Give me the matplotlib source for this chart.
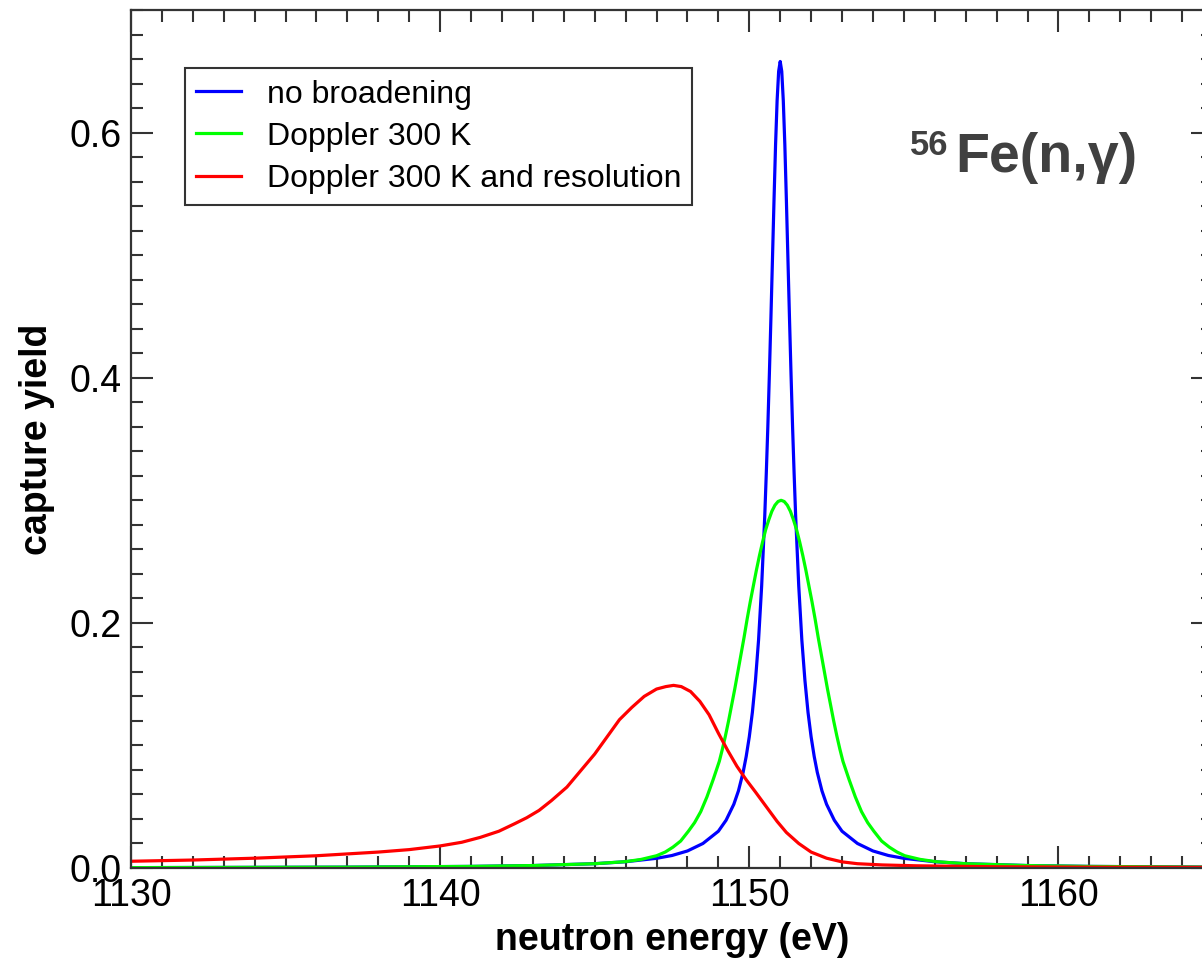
import numpy as np
import matplotlib
matplotlib.use('Agg')
import matplotlib.pyplot as plt
from matplotlib.ticker import MultipleLocator

plt.rcParams['font.family'] = ['Liberation Sans', 'DejaVu Sans']

# no broadening (blue)
e_blue = [1130, 1137, 1141, 1143, 1145, 1146, 1147, 1147.5, 1148, 1148.5, 1149, 1149.25,
          1149.5, 1149.65, 1149.8, 1149.9, 1150.0, 1150.1, 1150.2, 1150.3, 1150.4, 1150.5,
          1150.55, 1150.6, 1150.65, 1150.7, 1150.75, 1150.8, 1150.85, 1150.9, 1150.95, 1151.0,
          1151.05, 1151.1, 1151.15, 1151.2, 1151.25, 1151.3, 1151.35, 1151.4, 1151.45, 1151.5,
          1151.6, 1151.7, 1151.8, 1151.9, 1152.0, 1152.1, 1152.2, 1152.35, 1152.5, 1152.75,
          1153.0, 1153.5, 1154.0, 1154.5, 1155.0, 1156.0, 1157.0, 1159.0, 1161.0, 1165.0]
y_blue = [0.0003, 0.0007, 0.0013, 0.002, 0.0035, 0.0051, 0.0079, 0.0102, 0.0139, 0.020, 0.030, 0.039,
          0.052, 0.063, 0.078, 0.091, 0.107, 0.127, 0.153, 0.186, 0.230, 0.287,
          0.322, 0.360, 0.403, 0.449, 0.497, 0.545, 0.590, 0.626, 0.650, 0.658,
          0.650, 0.626, 0.590, 0.545, 0.497, 0.449, 0.403, 0.360, 0.322, 0.287,
          0.230, 0.186, 0.153, 0.127, 0.107, 0.091, 0.078, 0.063, 0.052, 0.039,
          0.030, 0.020, 0.0139, 0.0102, 0.0079, 0.0051, 0.0035, 0.002, 0.0013, 0.0007]

# Doppler 300 K (green)
e_green = [1130, 1137, 1141, 1143, 1145, 1146, 1146.5, 1147.0, 1147.28, 1147.53, 1147.78, 1148.03,
           1148.23, 1148.43, 1148.63, 1148.83, 1149.03, 1149.13, 1149.23, 1149.33, 1149.43, 1149.53,
           1149.63, 1149.73, 1149.83, 1149.93, 1150.03, 1150.13, 1150.23, 1150.33, 1150.43, 1150.53,
           1150.63, 1150.73, 1150.83, 1150.93, 1151.03, 1151.13, 1151.23, 1151.33, 1151.43, 1151.53,
           1151.63, 1151.73, 1151.83, 1151.93, 1152.03, 1152.13, 1152.23, 1152.33, 1152.43, 1152.53,
           1152.63, 1152.73, 1152.83, 1152.93, 1153.03, 1153.23, 1153.43, 1153.63, 1153.83, 1154.03,
           1154.28, 1154.53, 1154.78, 1155.03, 1155.53, 1156.03, 1157.0, 1159.0, 1161.0, 1165.0]
y_green = [0.0003, 0.0007, 0.0013, 0.002, 0.0035, 0.0052, 0.007, 0.010, 0.013, 0.017, 0.022, 0.030,
           0.037, 0.046, 0.058, 0.072, 0.087, 0.097, 0.108, 0.120, 0.133, 0.146,
           0.160, 0.174, 0.188, 0.203, 0.217, 0.230, 0.243, 0.255, 0.266, 0.276,
           0.284, 0.291, 0.296, 0.299, 0.300, 0.299, 0.296, 0.291, 0.284, 0.276,
           0.266, 0.255, 0.243, 0.230, 0.217, 0.203, 0.188, 0.174, 0.160, 0.146,
           0.133, 0.120, 0.108, 0.097, 0.087, 0.072, 0.058, 0.046, 0.037, 0.030,
           0.022, 0.017, 0.013, 0.010, 0.007, 0.0052, 0.0035, 0.002, 0.0013, 0.0007]

# Doppler 300 K and resolution (red)
e_red = [1130, 1132, 1134, 1136, 1138, 1139, 1140, 1140.7, 1141.3, 1141.9, 1142.4, 1142.8,
         1143.2, 1143.6, 1144.1, 1144.5, 1145.0, 1145.4, 1145.8, 1146.2, 1146.6, 1147.0,
         1147.3, 1147.55, 1147.8, 1148.1, 1148.4, 1148.7, 1149.0, 1149.3, 1149.6, 1149.9,
         1150.2, 1150.55, 1150.9, 1151.2, 1151.6, 1152.0, 1152.5, 1153.0, 1153.5, 1154.3,
         1155.4, 1158.0, 1161.0, 1165.0]
y_red = [0.0055, 0.0065, 0.008, 0.010, 0.013, 0.015, 0.018, 0.021, 0.025, 0.030, 0.036, 0.041,
         0.047, 0.055, 0.066, 0.078, 0.093, 0.107, 0.121, 0.131, 0.140, 0.146,
         0.148, 0.149, 0.148, 0.144, 0.136, 0.125, 0.110, 0.096, 0.083, 0.072,
         0.062, 0.050, 0.038, 0.029, 0.020, 0.013, 0.008, 0.005, 0.0035, 0.0025,
         0.0018, 0.001, 0.0007, 0.0005]

labels = ['no broadening', 'Doppler 300 K', 'Doppler 300 K and resolution']
colors = ['#0000ff', '#00ff00', '#ff0000']

fig = plt.figure(figsize=(12.02, 9.6), dpi=100)
ax = fig.add_axes([131 / 1202, 92 / 960, 1082 / 1202, 858 / 960])

for e, y, lab, c in zip([e_blue, e_green, e_red], [y_blue, y_green, y_red], labels, colors):
    ax.plot(e, y, color=c, lw=2.3, label=lab)

ax.set_xlim(1130, 1165)
ax.set_ylim(0, 0.7)
ax.xaxis.set_major_locator(MultipleLocator(10))
ax.xaxis.set_minor_locator(MultipleLocator(1))
ax.yaxis.set_major_locator(MultipleLocator(0.2))
ax.yaxis.set_minor_locator(MultipleLocator(0.02))
ax.yaxis.set_major_formatter(plt.FormatStrFormatter('%.1f'))

ax.tick_params(which='both', direction='in', top=True, right=True, colors='#333333',
               labelcolor='black', labelsize=27, width=1.5)
ax.tick_params(which='major', length=16, pad=7)
ax.tick_params(which='minor', length=8.5)
for s in ax.spines.values():
    s.set_linewidth(1.6)
    s.set_color('#333333')

ax.set_xlabel('neutron energy (eV)', fontsize=27, fontweight='bold', labelpad=6)
ax.set_ylabel('capture yield', fontsize=27, fontweight='bold', labelpad=10)

leg = ax.legend(loc='upper left', bbox_to_anchor=(0.05, 0.932), borderaxespad=0,
                fontsize=23, handlelength=1.4, handletextpad=0.8, labelspacing=0.38,
                borderpad=0.35, fancybox=False, framealpha=1, edgecolor='#333333')
leg.get_frame().set_linewidth(1.5)

fig.text(910 / 1202, 1 - 155 / 960, '56', fontsize=25, fontweight='bold', color='#404040',
         va='baseline', ha='left')
fig.text(955 / 1202, 1 - 172 / 960, 'Fe(n,γ)', fontsize=40, fontweight='bold', color='#404040',
         va='baseline', ha='left')

fig.savefig('out.png', dpi=100)
